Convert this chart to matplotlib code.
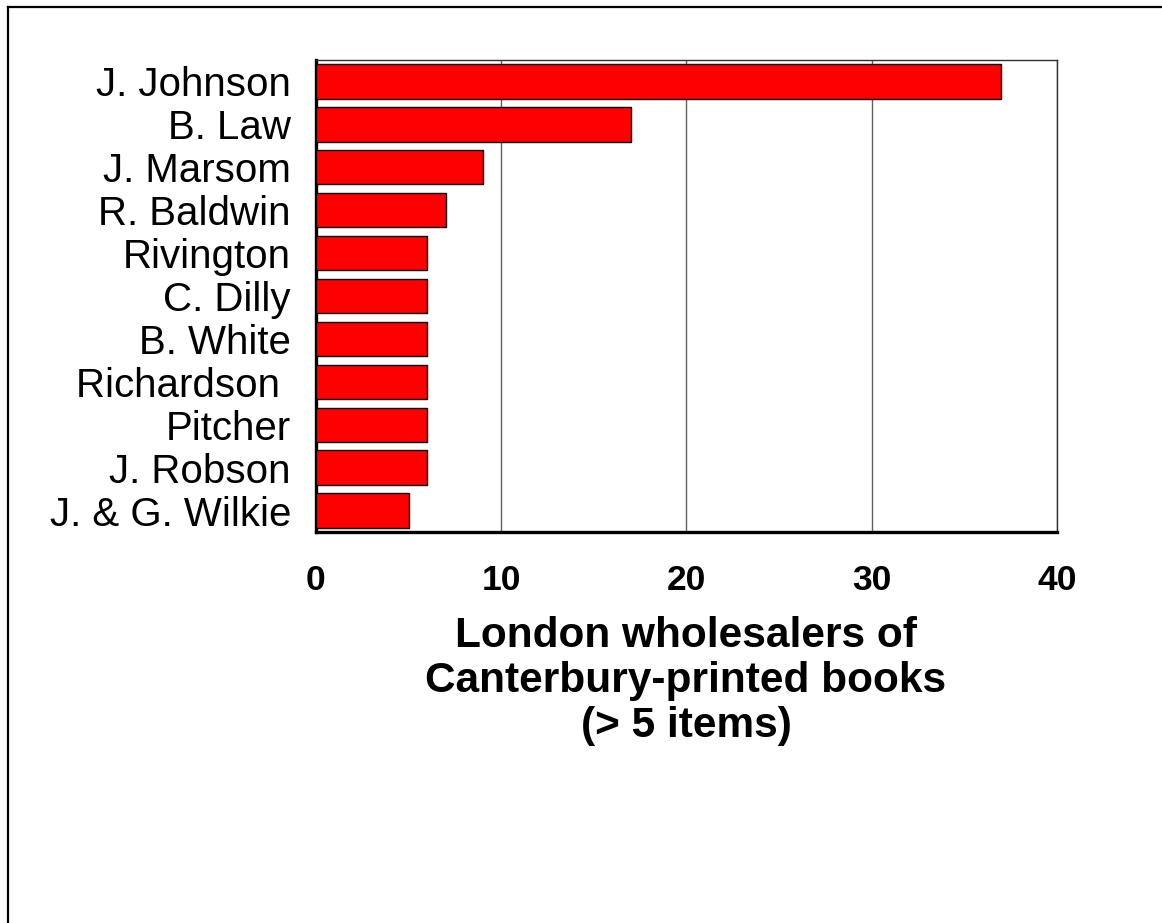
import matplotlib
matplotlib.use('Agg')
import matplotlib.pyplot as plt
from matplotlib.lines import Line2D

# wholesalers, top to bottom as shown
names = ['J. Johnson', 'B. Law', 'J. Marsom', 'R. Baldwin', 'Rivington',
         'C. Dilly', 'B. White', 'Richardson ', 'Pitcher', 'J. Robson',
         'J. & G. Wilkie']
counts = [37, 17, 9, 7, 6, 6, 6, 6, 6, 6, 5]
xticks = [0, 10, 20, 30, 40]
title = 'London wholesalers of\nCanterbury-printed books\n(> 5 items)'

plt.rcParams['font.family'] = ['Liberation Sans', 'DejaVu Sans']

fig = plt.figure(figsize=(11.62, 9.23), dpi=100)
ax = fig.add_axes([0.2719, 0.4236, 0.6377, 0.5114])

ypos = list(range(len(names)))
ax.barh(ypos, counts, height=0.8, color='#ff0000', edgecolor='black',
        linewidth=1, zorder=3)

ax.set_ylim(-0.5, len(names) - 0.5)
ax.invert_yaxis()
ax.set_xlim(0, 40)

ax.set_yticks(ypos)
ax.set_yticklabels(names, fontsize=29)
ax.tick_params(axis='y', length=0, pad=18)

ax.set_xticks(xticks)
ax.set_xticklabels([str(t) for t in xticks], fontsize=25.5, fontweight='bold')
ax.tick_params(axis='x', length=0, pad=23)

ax.grid(axis='x', color='#606060', linewidth=1, zorder=0)
ax.set_axisbelow(True)

for side in ['left', 'bottom']:
    ax.spines[side].set_linewidth(2.4)
    ax.spines[side].set_color('black')
for side in ['top', 'right']:
    ax.spines[side].set_linewidth(1)
    ax.spines[side].set_color('#303030')

fig.text(686 / 1162, 1 - 681 / 923, title, ha='center', va='center',
         fontsize=30.5, fontweight='bold', linespacing=1.17)

# frame round the chart (top and left edges visible)
fig.add_artist(Line2D([8 / 1162, 1.0], [1 - 7 / 923, 1 - 7 / 923],
                      transform=fig.transFigure, color='black', linewidth=1.6))
fig.add_artist(Line2D([8 / 1162, 8 / 1162], [0.0, 1 - 7 / 923],
                      transform=fig.transFigure, color='black', linewidth=1.6))

fig.savefig('out.png', dpi=100, facecolor='white')
